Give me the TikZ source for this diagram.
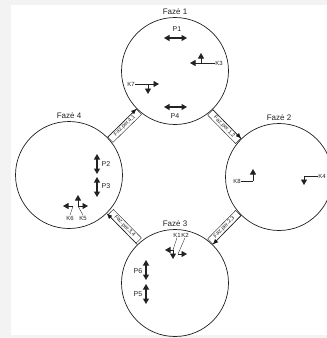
\documentclass[tikz,border=0pt]{standalone}
\usepackage{fontspec}
\setmainfont{Liberation Sans}
\usetikzlibrary{arrows.meta,positioning}
\definecolor{ink}{HTML}{222222}
\definecolor{paper}{HTML}{F3F3F3}

\begin{document}
\begin{tikzpicture}[x=1pt,y=-1pt,
  faze/.style={circle,draw=ink,line width=0.7pt,minimum size=107pt,inner sep=0pt},
  fazelab/.style={font=\fontsize{8}{8}\selectfont,text=ink,inner sep=1pt},
  perbox/.style={draw=ink,line width=0.4pt,font=\fontsize{5.5}{5.5}\selectfont,text=ink,
    inner sep=1.2pt,minimum width=40pt},
  per/.style={draw=ink,line width=0.5pt,-{Latex[length=5.5pt,width=4.5pt]}},
  plab/.style={font=\fontsize{7}{7}\selectfont,text=ink,inner sep=0.5pt},
  klab/.style={font=\fontsize{6}{6}\selectfont,text=ink,inner sep=0.5pt},
  dbl/.style={line width=1.1pt,ink,{Triangle[length=5.5pt,width=6pt]}-{Triangle[length=5.5pt,width=6pt]}},
  sig/.style={line width=0.9pt,ink,-{Triangle[length=5.5pt,width=6pt]}},
  lead/.style={line width=0.35pt,ink}]

\fill[paper] (0,0) rectangle (327,338);
\fill[white] (11,5) rectangle (327,335);
\useasboundingbox (0,0) rectangle (327,338);

% phases
\node[faze] (F1) at (175,71) {};
\node[faze] (F2) at (279,177) {};
\node[faze] (F3) at (175,283) {};
\node[faze] (F4) at (69,175) {};

\node[fazelab, above=1pt of F1] (L1) {Fazė 1};
\node[fazelab, above=1pt of F2] (L2) {Fazė 2};
\node[fazelab, above=1pt of F3] (L3) {Fazė 3};
\node[fazelab, above=1pt of F4] (L4) {Fazė 4};

% transitions
\path[per] (F4) edge node[midway, sloped, below=0pt, perbox] (T41) {Faz.per.4,1} (F1);
\path[per] (F1) edge node[midway, sloped, below=0pt, perbox] (T12) {Faz.per.1,2} (F2);
\path[per] (F2) edge node[midway, sloped, above=0pt, perbox] (T23) {Faz.per.2,3} (F3);
\path[per] (F3) edge node[midway, sloped, above=0pt, perbox] (T34) {Faz.per.3,4} (F4);

% phase 1
\node[plab] (P1) at (177,29) {P1};
\draw[dbl] (164,38) -- (187,38);
\node[plab] (P4) at (175,116) {P4};
\draw[dbl] (164,107) -- (187,107);
\node[klab] (K3) at (219,63) {K3};
\coordinate (j3) at (201,63);
\draw[lead] (K3.west) -- (j3);
\draw[sig] (j3) -- ++(-11,0);
\draw[sig] (j3) -- ++(0,-10);
\node[klab] (K7) at (131,84) {K7};
\coordinate (j7) at (148,84);
\draw[lead] (K7.east) -- (j7);
\draw[sig] (j7) -- ++(11,0);
\draw[sig] (j7) -- ++(0,10);

% phase 2
\node[klab] (K8) at (237,181) {K8};
\coordinate (j8) at (253,181);
\draw[lead] (K8.east) -- (j8);
\draw[sig] (j8) -- ++(0,-12);
\node[klab] (K4) at (322,176) {K4};
\coordinate (j4) at (304,176);
\draw[lead] (K4.west) -- (j4);
\draw[sig] (j4) -- ++(0,9);

% phase 3
\node[klab] (K1) at (177,235) {K1};
\node[klab] (K2) at (185,235) {K2};
\coordinate (j1) at (173,250);
\coordinate (j2) at (178,254);
\draw[lead] (K1.south) -- (j1);
\draw[lead] (K2.south) -- (j2);
\draw[sig] (j1) -- ++(-8,0);
\draw[sig] (j1) -- ++(0,9);
\draw[sig] (j2) -- ++(9,0);
\node[plab] (P6) at (138,271) {P6};
\draw[dbl] (146,260) -- (146,280);
\node[plab] (P5) at (138,294) {P5};
\draw[dbl] (146,284) -- (146,304);

% phase 4
\node[plab] (P2) at (106,164) {P2};
\draw[dbl] (97,154) -- (97,174);
\node[plab] (P3) at (106,186) {P3};
\draw[dbl] (97,177) -- (97,197);
\node[klab] (K6) at (70,218) {K6};
\node[klab] (K5) at (83,218) {K5};
\coordinate (j6) at (73,206);
\coordinate (j5) at (78,206);
\draw[lead] (K6.north) -- (j6);
\draw[lead] (K5.north) -- (j5);
\draw[sig] (j6) -- (63,206);
\draw[sig] (j5) -- (88,206);
\draw[sig] (j5) -- (78,195);

\end{tikzpicture}
\end{document}
